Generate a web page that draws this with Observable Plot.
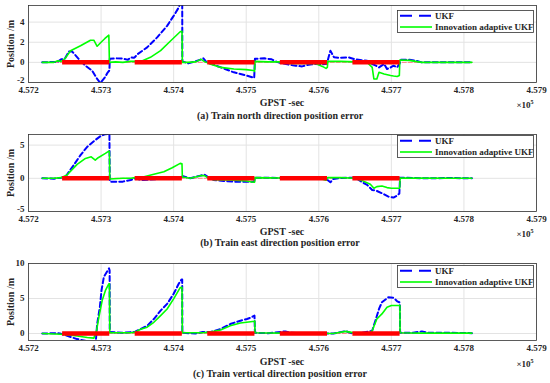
<!DOCTYPE html>
<html><head><meta charset="utf-8">
<script src="https://cdn.jsdelivr.net/npm/d3@7"></script>
<script src="https://cdn.jsdelivr.net/npm/@observablehq/plot@0.6"></script>
<style>
body{margin:0;background:#fff;}
#chart{position:relative;width:550px;height:383px;font-family:"Liberation Serif","Times New Roman",serif;font-weight:bold;color:#262626;overflow:hidden;background:#fff}
.panel{position:absolute;left:0}
.t{position:absolute;white-space:nowrap;font-size:10px;line-height:1;transform:translate(-50%,-50%)}
.yl{position:absolute;white-space:nowrap;font-size:10px;line-height:1;transform:translate(-50%,-50%) rotate(-90deg)}
.leg{position:absolute;left:397px;width:137px;height:23px}
</style></head><body><div id="chart"></div>
<script>
// GPST seconds (axis shows value / 1e5)
const xTicks = [457200, 457300, 457400, 457500, 457600, 457700, 457800, 457900];
const outageStart = [457247, 457347, 457447, 457547, 457647];
const outageEnd   = [457312, 457412, 457512, 457612, 457712];
const dataSpan = [457219, 457811];

// (a) north
const northUkfT = [457219,457240,457245,457250,457255.6,457260,457269.3,457278.5,457287.7,457294.6,457299,457304.7,457309.3,457311.5,457312,457320,457330,457337,457341,457345,457347,457350,457363.5,457377.3,457391,457400,457407,457411.8,457412,457420,457430,457438,457441,457445,457450,457465,457483,457501,457511,457512,457525,457535,457542,457550,457560,457568,457577,457586,457595.5,457605,457611,457616,457621,457630,457641,457650,457660,457666.7,457673.6,457678,457683,457690,457694,457699,457703,457708,457711.5,457713,457725,457735,457742,457760,457780,457800,457811];
const northUkfV = [0,0.05,0.3,0.35,1.09,1.1,0.33,-0.33,-0.82,-1.65,-2.05,-1.55,-0.99,-0.8,0.35,0.4,0.38,0.25,0.5,0.45,0.55,0.8,1.49,2.48,3.63,4.62,5.45,6.5,0.1,-0.1,0.1,0.3,0.4,0.05,-0.1,-0.5,-0.99,-1.32,-1.55,0.35,0.4,0.3,0.05,-0.1,-0.25,-0.33,-0.4,-0.23,-0.16,-0.2,-0.15,1.16,0.5,0.45,0.5,0.3,0.2,0.15,-0.16,-0.3,-0.5,-0.16,-0.66,-0.5,-0.33,-0.5,-0.1,0.25,0.25,0.15,0,0.02,0,0.02,0];
const northAukfT = [457219,457235,457240,457245,457250,457258,457271.7,457285.4,457290,457294.6,457300,457305,457310.7,457311.5,457320,457330,457340,457347,457354,457368,457382,457396,457409,457411.5,457412,457420,457430,457438,457442,457450,457465,457483,457500,457510,457511.5,457512,457530,457545,457560,457580,457595,457605,457610,457611.8,457612.5,457630,457650,457666.7,457673.6,457675.9,457680,457683,457690,457699,457703,457708,457711,457711.7,457725,457742,457811];
const northAukfV = [0,0,0.15,0.1,0.35,1.16,1.65,2.2,2.2,1.6,2.0,2.35,2.7,0,0.05,0,0.1,0.1,0.07,0.5,1.16,2.15,3.04,3.1,0,0,0.05,0.3,0.1,-0.15,-0.5,-0.66,-0.72,-0.8,-0.9,0.1,0.05,0.05,-0.1,-0.1,-0.1,-0.4,-0.6,-0.5,0.1,0.1,0.05,0,-0.5,-1.65,-1.65,-0.99,-1.15,-1.3,-1.35,-1.4,-1.3,0.23,0.2,0,0];

// (b) east
const eastUkfT = [457219,457235,457245,457251,457262.4,457271.7,457280.9,457290,457299,457306,457311.5,457312,457320,457330,457341,457347,457355,457365,457380,457400,457410,457412,457413,457423,457437,457442.5,457448.5,457455,457469,457483,457501,457511,457512,457530,457545,457560,457590,457610,457612,457616,457620,457630,457650,457660,457666.7,457673.6,457680,457687,457696,457703,457708,457711,457712,457730,457750,457780,457811];
const eastUkfV = [0,-0.05,0.1,0.24,2.0,3.5,4.74,5.59,6.34,6.65,6.7,-0.5,-0.5,-0.5,-0.25,0,-0.25,-0.2,-0.1,-0.05,0,0.3,0.3,0,0.4,0.55,0.1,-0.25,-0.4,-0.5,-0.5,-0.5,0.1,0.1,0.05,0,0.05,-0.1,-0.25,-0.6,-0.1,0.05,0.1,-0.6,-1.0,-1.75,-1.9,-2.25,-2.76,-2.9,-2.6,-2.3,0.1,0.05,0,0.05,0];
const eastAukfT = [457219,457235,457245,457253,457267,457278.5,457286.4,457292,457296,457306,457310.7,457311.5,457312,457330,457341,457347,457358,457372.7,457386.5,457398,457409,457411.5,457412,457423,457437,457442.5,457448.5,457455,457483,457500,457510,457511.5,457512,457550,457580,457600,457610,457612,457630,457650,457660,457671,457676,457680,457687,457694,457700,457710,457711.5,457712,457811];
const eastAukfV = [0,0,0.1,0.5,2.1,3.0,3.24,2.74,3.1,3.75,4.1,4.0,-0.1,0,0,0.1,0.2,0.6,1.0,1.6,2.25,2.2,0.2,0,0.4,0.4,0,-0.2,-0.3,-0.4,-0.6,-0.6,0.1,0.05,0.05,0,-0.3,0.1,0.1,0,-0.35,-0.9,-1.5,-1.25,-1.15,-1.4,-1.5,-1.5,-1.5,0.05,0];

// (c) vertical
const vertUkfT = [457219,457240,457245,457253.3,457267,457281,457290,457293,457294.6,457298.3,457300.6,457303.8,457309.3,457311,457311.8,457312,457330,457341,457347,457354.5,457363.5,457372.7,457382,457391,457400,457407,457410.8,457411.8,457412,457430,457440,457450,457464.6,457478,457492,457501,457507,457511.4,457512,457530,457554,457560,457580,457600,457620,457637,457645,457660,457673.6,457678,457683,457687,457696,457703,457708,457711,457711.8,457712,457730,457742,457750,457780,457811];
const vertUkfV = [0,0.05,-0.05,-0.33,-0.8,-1.1,-1.1,-0.8,1.35,3.75,6.15,8.07,9.03,9.3,9.0,0.2,0.1,0.2,0.25,0.63,1.1,2.07,3.27,4.23,5.67,7.1,7.7,7.7,0.1,0,0.2,0.2,0.63,1.35,1.83,2.07,2.3,2.55,0.1,0.05,0.3,0.1,0.05,0.05,0,0.35,0.05,0.1,0.39,1.83,3.51,4.47,5.19,5.1,4.6,4.47,4.0,0.1,0.1,0.3,0.1,0.1,0.05];
const vertAukfT = [457219,457245,457255,457267,457281,457290,457293.7,457296.9,457301.5,457306,457310.7,457311.5,457312,457341,457347,457354.5,457363.5,457372.7,457382,457391,457400,457409,457411.5,457412,457440,457450,457464.6,457478,457492,457506,457511,457511.8,457512,457550,457620,457637,457650,457670,457673.6,457680,457687,457694,457700,457710,457711.8,457712,457740,457811];
const vertAukfV = [0,-0.1,-0.2,-0.35,-0.57,-0.66,0.39,2.3,4.7,6.15,7.1,7.1,0.1,0.1,0.2,0.6,0.9,1.6,2.55,3.5,4.95,6.55,6.6,0.1,0.1,0.2,0.5,1.1,1.5,1.68,1.75,1.8,0.1,0.05,0,0.3,0.05,0.1,0.39,2.07,2.8,3.75,4.0,4.0,4.0,0.1,0.05,0.05];

const panels = [
  {top: 5, ydom: [-2, 5.65], yticks: [-2, 0, 2, 4], ukfT: northUkfT, ukfV: northUkfV, aT: northAukfT, aV: northAukfV,
   xlab: 102.5, cap: 115.5, capText: "(a) Train north direction position error", legTop: 9.5},
  {top: 134, ydom: [-5, 6.6], yticks: [-5, 0, 5], ukfT: eastUkfT, ukfV: eastUkfV, aT: eastAukfT, aV: eastAukfV,
   xlab: 231.5, cap: 243, capText: "(b) Train east direction position error", legTop: 135},
  {top: 263.3, ydom: [-1, 10], yticks: [0, 5, 10], ukfT: vertUkfT, ukfV: vertUkfV, aT: vertAukfT, aV: vertAukfV,
   xlab: 361.5, cap: 373.5, capText: "(c) Train vertical direction position error", legTop: 265}
];

const chart = document.getElementById("chart");
const mT = 5, mB = 16, pH = 77;

function addText(cls, x, y, html, size) {
  const d = document.createElement("div");
  d.className = cls; d.style.left = x + "px"; d.style.top = y + "px";
  if (size) d.style.fontSize = size + "px";
  d.innerHTML = html; chart.appendChild(d);
}

for (const p of panels) {
  const ukf = p.ukfT.map((t, i) => ({t, v: p.ukfV[i]}));
  const aukf = p.aT.map((t, i) => ({t, v: p.aV[i]}));
  const outages = outageStart.map((s, i) => ({s, e: outageEnd[i]}));
  const bottomTick = p.yticks.filter(d => d === p.ydom[0]);
  const otherTicks = p.yticks.filter(d => d !== p.ydom[0]);
  const svg = Plot.plot({
    width: 550, height: mT + pH + mB,
    marginTop: mT, marginBottom: mB, marginLeft: 28, marginRight: 14,
    x: {domain: [457200, 457900], ticks: xTicks, tickFormat: d => (d / 1e5).toFixed(3), tickSize: 0, tickPadding: 4, label: null},
    y: {domain: p.ydom, label: null, axis: null},
    style: {fontFamily: '"Liberation Serif", serif', fontWeight: "bold", fontSize: "9px", color: "#262626", background: "transparent", overflow: "visible"},
    marks: [
      Plot.ruleX(xTicks, {stroke: "#e3e3e3", strokeWidth: 1}),
      Plot.ruleY(p.yticks, {stroke: "#e3e3e3", strokeWidth: 1}),
      Plot.line(dataSpan.map(t => ({t, v: 0})), {x: "t", y: "v", stroke: "#ff7f7f", strokeWidth: 1, strokeDasharray: "4,2"}),
      Plot.line(ukf, {x: "t", y: "v", stroke: "#0000ff", strokeWidth: 2, strokeDasharray: "5,3", clip: true}),
      Plot.line(aukf, {x: "t", y: "v", stroke: "#00ff00", strokeWidth: 1.6, clip: true}),
      Plot.ruleY(outages, {x1: "s", x2: "e", y: 0, stroke: "#ff0000", strokeWidth: 4.5}),
      Plot.frame({stroke: "#333", strokeWidth: 0.8}),
      // y tick labels (bottom one nudged up so it clears the x labels)
      Plot.text(otherTicks, {y: d => d, text: d => String(d), frameAnchor: "left", textAnchor: "end", dx: -4, fill: "#262626"}),
      Plot.text(bottomTick, {y: d => d, text: d => String(d), frameAnchor: "left", textAnchor: "end", dx: -4, dy: -2, fill: "#262626"})
    ]
  });
  svg.classList.add("panel");
  svg.style.top = (p.top - mT) + "px";
  chart.appendChild(svg);

  addText("t", 282, p.xlab, "GPST -sec", 10);
  addText("t", 280, p.cap, p.capText, 10);
  addText("t", 525, p.xlab + 1, "&times;10<sup style='font-size:6px;vertical-align:4px'>5</sup>", 9);
  addText("yl", 11, p.top + pH / 2, "Position /m", 10);

  const leg = document.createElementNS("http://www.w3.org/2000/svg", "svg");
  leg.setAttribute("class", "leg");
  leg.setAttribute("width", 137); leg.setAttribute("height", 23);
  leg.style.top = p.legTop + "px";
  leg.innerHTML = `<rect x="0.5" y="0.5" width="136" height="22" fill="#fff" stroke="#333" stroke-width="0.8"/>
   <line x1="3" x2="35" y1="5.8" y2="5.8" stroke="#0000ff" stroke-width="2" stroke-dasharray="12,7"/>
   <line x1="3" x2="35" y1="17" y2="17" stroke="#00ff00" stroke-width="1.6"/>
   <text x="38" y="9" font-family="Liberation Serif, serif" font-weight="bold" font-size="9" fill="#262626">UKF</text>
   <text x="38" y="20.2" font-family="Liberation Serif, serif" font-weight="bold" font-size="9" fill="#262626">Innovation adaptive UKF</text>`;
  chart.appendChild(leg);
}
</script></body></html>
